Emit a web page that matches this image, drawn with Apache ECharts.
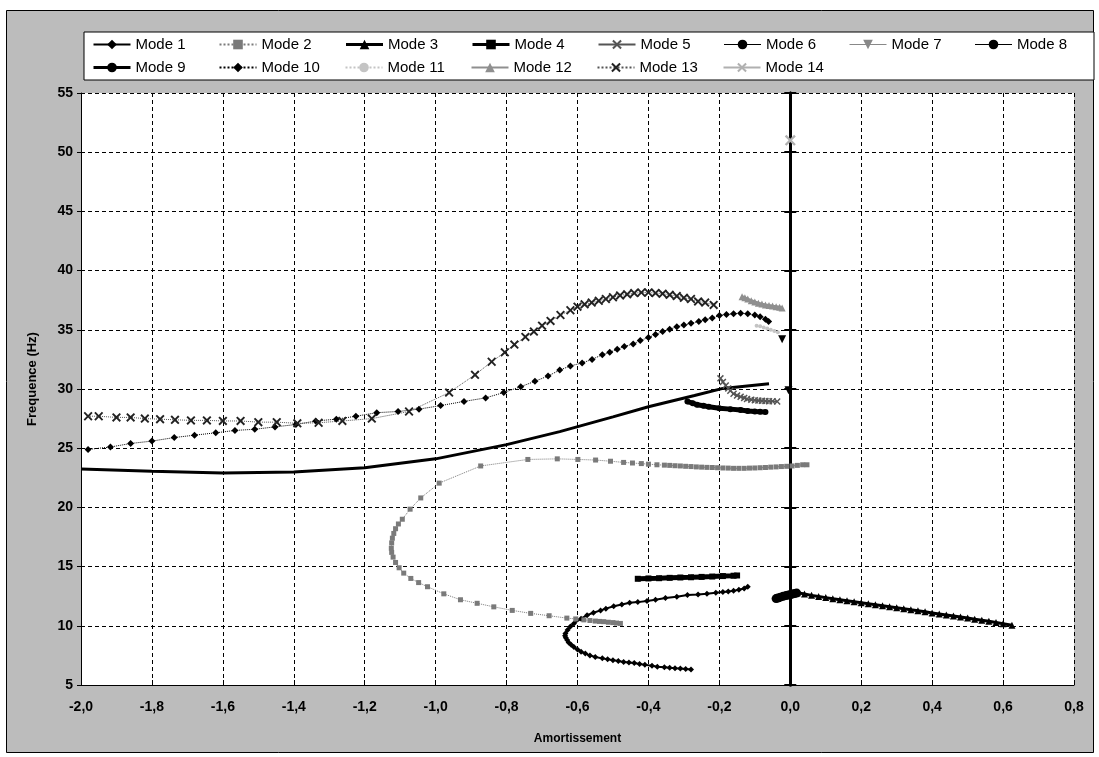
<!DOCTYPE html>
<html><head><meta charset="utf-8">
<script src="https://cdn.jsdelivr.net/npm/echarts@6/dist/echarts.min.js"></script>
<style>html,body{margin:0;padding:0;background:#fff}
#c{position:absolute;left:0;top:0;width:1099px;height:757px;}
</style></head><body><div id="c"></div><script>
// ---------- data ----------
const modeNames = ['Mode 1','Mode 2','Mode 3','Mode 4','Mode 5','Mode 6','Mode 7','Mode 8','Mode 9','Mode 10','Mode 11','Mode 12','Mode 13','Mode 14'];
const xTicks = {min:-2.0, max:0.8, step:0.2};
const yTicks = {min:5, max:55, step:5};

const mode1X = [-0.12,-0.13,-0.145,-0.16,-0.175,-0.19,-0.21,-0.235,-0.26,-0.29,-0.32,-0.352,-0.38,-0.404,-0.43,-0.453,-0.475,-0.498,-0.52,-0.535,-0.555,-0.573,-0.59,-0.61,-0.62,-0.628,-0.634,-0.635,-0.633,-0.629,-0.625,-0.618,-0.61,-0.6,-0.59,-0.578,-0.565,-0.55,-0.53,-0.515,-0.50,-0.485,-0.47,-0.455,-0.44,-0.425,-0.41,-0.39,-0.375,-0.355,-0.34,-0.325,-0.31,-0.295,-0.28];
const mode1Y = [13.3,13.15,13.05,12.95,12.9,12.85,12.8,12.7,12.65,12.6,12.45,12.35,12.2,12.1,12.0,11.95,11.8,11.65,11.45,11.3,11.1,10.9,10.6,10.2,9.95,9.65,9.35,9.15,9.0,8.8,8.6,8.4,8.2,8.0,7.8,7.65,7.5,7.37,7.25,7.17,7.1,7.02,6.95,6.9,6.85,6.78,6.7,6.62,6.55,6.5,6.45,6.42,6.4,6.35,6.3];

const mode2X = [0.047,0.035,0.02,0.005,-0.01,-0.025,-0.04,-0.055,-0.07,-0.085,-0.1,-0.115,-0.13,-0.145,-0.16,-0.175,-0.19,-0.205,-0.22,-0.235,-0.25,-0.265,-0.28,-0.295,-0.31,-0.325,-0.34,-0.355,-0.376,-0.4,-0.42,-0.445,-0.47,-0.507,-0.549,-0.599,-0.657,-0.74,-0.873,-0.99,-1.042,-1.072,-1.094,-1.105,-1.113,-1.118,-1.122,-1.124,-1.125,-1.124,-1.12,-1.113,-1.103,-1.09,-1.07,-1.048,-1.023,-0.977,-0.93,-0.883,-0.836,-0.784,-0.732,-0.68,-0.63,-0.605,-0.582,-0.565,-0.55,-0.538,-0.526,-0.513,-0.50,-0.49,-0.479];
const mode2Y = [23.6,23.6,23.55,23.5,23.47,23.45,23.42,23.4,23.37,23.35,23.33,23.32,23.3,23.3,23.3,23.32,23.33,23.35,23.37,23.38,23.4,23.42,23.45,23.47,23.5,23.52,23.55,23.57,23.6,23.65,23.7,23.75,23.8,23.9,24.0,24.05,24.1,24.05,23.5,22.05,20.8,19.85,19.0,18.6,18.2,17.8,17.4,17.0,16.55,16.2,15.8,15.35,14.9,14.45,14.0,13.65,13.3,12.7,12.2,11.9,11.6,11.3,11.05,10.85,10.65,10.58,10.5,10.45,10.4,10.37,10.35,10.3,10.27,10.23,10.2];

const mode3X = [0.02,0.04,0.06,0.08,0.10,0.12,0.14,0.16,0.18,0.20,0.22,0.24,0.26,0.28,0.30,0.32,0.34,0.36,0.38,0.40,0.42,0.44,0.46,0.48,0.50,0.52,0.54,0.56,0.58,0.60,0.625];
const mode3Y = [12.8,12.68,12.57,12.47,12.38,12.28,12.2,12.12,12.03,11.95,11.86,11.78,11.7,11.61,11.53,11.44,11.35,11.27,11.18,11.09,11.0,10.92,10.83,10.74,10.65,10.56,10.47,10.38,10.28,10.18,10.05];

const mode4X = [-0.43,-0.40,-0.37,-0.34,-0.31,-0.28,-0.25,-0.22,-0.19,-0.16,-0.15];
const mode4Y = [13.97,14.0,14.02,14.05,14.08,14.1,14.13,14.16,14.2,14.23,14.25];

const mode5X = [-0.197,-0.19,-0.182,-0.175,-0.169,-0.16,-0.15,-0.14,-0.13,-0.122,-0.11,-0.1,-0.09,-0.08,-0.07,-0.06,-0.05,-0.037];
const mode5Y = [30.9,30.6,30.3,30.05,29.85,29.6,29.45,29.35,29.25,29.15,29.1,29.05,29.02,29.0,28.98,28.97,28.96,28.95];

const mode6X = [-0.29,-0.275,-0.263,-0.245,-0.23,-0.2,-0.169,-0.14,-0.12,-0.1,-0.085,-0.07];
const mode6Y = [28.94,28.8,28.67,28.58,28.5,28.38,28.3,28.22,28.15,28.1,28.07,28.05];

const mode7X = [-0.023,null,-0.005];
const mode7Y = [34.2,null,29.9];

const mode8X = [-0.04,-0.035,-0.028,-0.02,-0.012,-0.005,0.0,0.006,0.012,0.018];
const mode8Y = [12.3,12.35,12.42,12.5,12.55,12.6,12.62,12.68,12.72,12.76];

const mode9X = [-2.0,-1.8,-1.6,-1.4,-1.2,-1.0,-0.8,-0.65,-0.5,-0.4,-0.27,-0.19,-0.06];
const mode9Y = [23.25,23.05,22.9,23.0,23.35,24.1,25.3,26.4,27.65,28.5,29.45,30.05,30.45];

const mode10X = [-1.98,-1.917,-1.86,-1.80,-1.737,-1.68,-1.62,-1.566,-1.51,-1.453,-1.394,-1.338,-1.28,-1.225,-1.166,-1.106,-1.047,-0.986,-0.92,-0.859,-0.808,-0.76,-0.72,-0.683,-0.65,-0.62,-0.587,-0.559,-0.53,-0.509,-0.488,-0.468,-0.443,-0.423,-0.40,-0.38,-0.36,-0.34,-0.32,-0.30,-0.28,-0.258,-0.24,-0.22,-0.20,-0.18,-0.16,-0.14,-0.12,-0.10,-0.085,-0.07,-0.061];
const mode10Y = [24.9,25.1,25.4,25.6,25.9,26.1,26.3,26.5,26.6,26.8,27.0,27.3,27.45,27.7,28.0,28.1,28.3,28.6,28.95,29.25,29.7,30.2,30.65,31.1,31.6,31.95,32.2,32.5,32.9,33.1,33.35,33.6,33.8,34.1,34.35,34.6,34.85,35.05,35.25,35.4,35.55,35.7,35.85,36.0,36.2,36.3,36.35,36.4,36.35,36.25,36.1,35.9,35.7];

const mode11X = [-0.095,-0.085,-0.075,-0.065,-0.055,-0.045,-0.035];
const mode11Y = [35.35,35.3,35.2,35.1,35.0,34.9,34.8];

const mode12X = [-0.136,-0.128,-0.12,-0.11,-0.1,-0.09,-0.08,-0.07,-0.06,-0.05,-0.04,-0.03,-0.023];
const mode12Y = [37.8,37.7,37.6,37.45,37.35,37.25,37.17,37.1,37.05,37.0,36.95,36.9,36.85];

const mode13X = [-1.98,-1.95,-1.90,-1.86,-1.82,-1.777,-1.735,-1.69,-1.645,-1.60,-1.55,-1.50,-1.448,-1.39,-1.33,-1.263,-1.18,-1.075,-0.962,-0.889,-0.842,-0.805,-0.778,-0.747,-0.723,-0.70,-0.676,-0.648,-0.62,-0.60,-0.58,-0.56,-0.54,-0.52,-0.50,-0.48,-0.46,-0.44,-0.42,-0.40,-0.38,-0.36,-0.34,-0.32,-0.30,-0.28,-0.26,-0.24,-0.216];
const mode13Y = [27.7,27.7,27.6,27.6,27.5,27.45,27.4,27.35,27.35,27.3,27.3,27.2,27.2,27.1,27.15,27.3,27.5,28.1,29.7,31.2,32.3,33.1,33.75,34.4,34.85,35.35,35.75,36.25,36.65,36.95,37.15,37.3,37.45,37.6,37.75,37.9,38.0,38.1,38.15,38.15,38.1,38.05,37.95,37.85,37.7,37.6,37.4,37.3,37.1];

const mode14X = [0.0];
const mode14Y = [51.0];

// ---------- build ----------
function zip(xs, ys){ return xs.map((x,i)=> (x===null||ys[i]===null) ? [NaN, NaN] : [x, ys[i]]); }
const X_PATH = 'path://M0,1.5L1.5,0L5,3.5L8.5,0L10,1.5L6.5,5L10,8.5L8.5,10L5,6.5L1.5,10L0,8.5L3.5,5Z';

const styles = [
  {data: zip(mode1X,mode1Y), symbol:'diamond', symbolSize:6, color:'#000', width:2},
  {data: zip(mode2X,mode2Y), symbol:'rect', symbolSize:5, color:'#7a7a7a', width:1, type:'dotted'},
  {data: zip(mode3X,mode3Y), symbol:'triangle', symbolSize:7, color:'#000', width:3},
  {data: zip(mode4X,mode4Y), symbol:'rect', symbolSize:6, color:'#000', width:5},
  {data: zip(mode5X,mode5Y), symbol:X_PATH, symbolSize:7, color:'#555', width:1.5},
  {data: zip(mode6X,mode6Y), symbol:'circle', symbolSize:6, color:'#000', width:5},
  {data: zip(mode7X,mode7Y), symbol:'triangle', symbolRotate:180, symbolSize:8, color:'#000', width:0},
  {data: zip(mode8X,mode8Y), symbol:'circle', symbolSize:9, color:'#000', width:3},
  {data: zip(mode9X,mode9Y), symbol:'none', symbolSize:0, color:'#000', width:3},
  {data: zip(mode10X,mode10Y), symbol:'diamond', symbolSize:7, color:'#000', width:1, type:'dotted'},
  {data: zip(mode11X,mode11Y), symbol:'circle', symbolSize:4, color:'#c4c4c4', width:1, type:'dotted'},
  {data: zip(mode12X,mode12Y), symbol:'triangle', symbolSize:7, color:'#8f8f8f', width:3},
  {data: zip(mode13X,mode13Y), symbol:X_PATH, symbolSize:9, color:'#222', width:1, type:'dotted', lineColor:'#555'},
  {data: zip(mode14X,mode14Y), symbol:X_PATH, symbolSize:11, color:'#b0b0b0', width:1}
];

const series = styles.map((s,i)=>({
  name: modeNames[i], type:'line', data: s.data,
  symbol: s.symbol, symbolSize: s.symbolSize, symbolRotate: s.symbolRotate||0,
  showSymbol: s.symbol!=='none', connectNulls:false, animation:false,
  itemStyle:{color:s.color}, lineStyle:{color:s.lineColor||s.color, width:s.width, type:s.type||'solid'},
  emphasis:{disabled:true}, z: 3
}));

const legendData = modeNames.map((n,i)=>{
  const d = {name:n};
  if (n==='Mode 7') { d.lineStyle = {width:1, color:'#888', type:'solid'}; d.itemStyle = {color:'#888'}; }
  if (n==='Mode 3' || n==='Mode 4' || n==='Mode 9') { d.lineStyle = {width:3}; }
  if (n==='Mode 6') { d.lineStyle = {width:1}; }
  if (n==='Mode 8') { d.lineStyle = {width:1}; }
  return d;
});

const chart = echarts.init(document.getElementById('c'), null, {renderer:'canvas'});
const FONT = '"Liberation Sans", Arial, sans-serif';
const yExtra = (inside)=>({
  type:'value', min:yTicks.min, max:yTicks.max, interval:yTicks.step, position:'left',
  axisLine:{show:true, onZero:true, onZeroAxisIndex:0, lineStyle:{color:'#000', width:3}},
  axisTick:{show:true, inside:inside, length:6, lineStyle:{color:'#000', width:2}},
  axisLabel:{show:false}, splitLine:{show:false}
});
chart.setOption({
  backgroundColor:'#fff',
  animation:false,
  graphic:[{type:'rect', left:6, top:10, shape:{width:1087, height:742}, style:{fill:'#bcbcbc', stroke:'#000', lineWidth:1}, z:-100, silent:true}],
  legend:{
    data: legendData, left:84, top:32, width:1002, orient:'horizontal',
    itemWidth:37, itemHeight:12, itemGap:8,
    padding:[5,2,5,8], backgroundColor:'#fff', borderColor:'#000', borderWidth:1, borderRadius:0,
    textStyle:{fontFamily:FONT, fontSize:15, color:'#000', width:75, lineHeight:12}
  },
  grid:{left:81, right:25, top:93, bottom:72, show:true, backgroundColor:'#fff', borderWidth:0},
  xAxis:{
    type:'value', min:xTicks.min, max:xTicks.max, interval:xTicks.step,
    name:'Amortissement', nameLocation:'middle', nameGap:48,
    nameTextStyle:{fontFamily:FONT, fontSize:12, fontWeight:'bold', color:'#000'},
    axisLine:{show:true, onZero:false, lineStyle:{color:'#000', width:1}},
    axisTick:{show:true, inside:true, length:5, lineStyle:{color:'#000'}},
    axisLabel:{fontFamily:FONT, fontSize:14, fontWeight:'bold', color:'#000', margin:15,
      formatter:v=>v.toFixed(1).replace('.',',')},
    splitLine:{show:true, lineStyle:{color:'#000', type:[4,3], width:1}}
  },
  yAxis:[{
    type:'value', min:yTicks.min, max:yTicks.max, interval:yTicks.step, position:'left',
    name:'Frequence (Hz)', nameLocation:'middle', nameGap:42,
    nameTextStyle:{fontFamily:FONT, fontSize:13, fontWeight:'bold', color:'#000', padding:[0,0,0,20]},
    axisLine:{show:true, onZero:false, lineStyle:{color:'#000', width:1}},
    axisTick:{show:true, length:4, lineStyle:{color:'#000'}},
    axisLabel:{fontFamily:FONT, fontSize:14, fontWeight:'bold', color:'#000', margin:8},
    splitLine:{show:true, lineStyle:{color:'#000', type:[4,3], width:1}}
  }, yExtra(true), yExtra(false)],
  series: series
});
</script></body></html>
